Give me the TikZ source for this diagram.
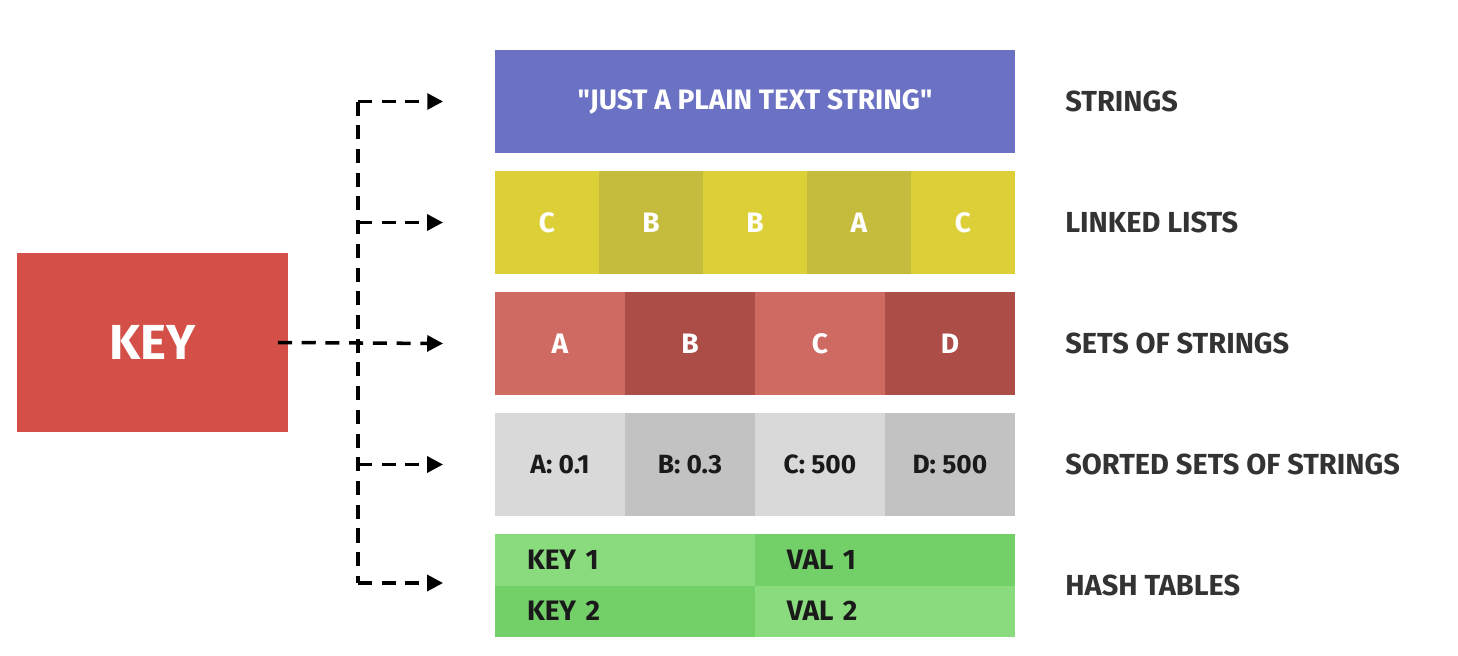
\documentclass[tikz,border=0pt]{standalone}
\usepackage{fontspec}
\setmainfont{Fira Sans}
\usetikzlibrary{positioning, arrows.meta}

\definecolor{keyRed}{HTML}{D34F47}
\definecolor{strBlue}{HTML}{6B72C3}
\definecolor{listLight}{HTML}{DCCF38}
\definecolor{listDark}{HTML}{C5BB3C}
\definecolor{setLight}{HTML}{CF6A63}
\definecolor{setDark}{HTML}{AD4D47}
\definecolor{zsetLight}{HTML}{D9D9D9}
\definecolor{zsetDark}{HTML}{C2C2C2}
\definecolor{hashLight}{HTML}{8ADB7E}
\definecolor{hashDark}{HTML}{73CF68}
\definecolor{labelGray}{HTML}{333333}
\definecolor{inkDark}{HTML}{1A1A1A}

\begin{document}
\begin{tikzpicture}[
                x=0.02cm, y=-0.02cm,
                node distance = 0pt,
                % Box Styles
                keyBox/.style = {rectangle, inner sep=0, outer sep=0, minimum width=5.42cm, minimum height=3.58cm, fill=keyRed, text=white, font=\fontsize{28}{30}\selectfont\bfseries},
                cellBox/.style = {rectangle, inner sep=0, outer sep=0, minimum height=2.06cm, text=white, font=\fontsize{16}{18}\selectfont\bfseries},
                listCell/.style = {cellBox, minimum width=2.08cm},
                setCell/.style = {cellBox, minimum width=2.6cm},
                zsetCell/.style = {setCell, text=inkDark, font=\fontsize{15}{17}\selectfont\bfseries},
                hashCell/.style = {rectangle, outer sep=0, inner ysep=0, inner xsep=0.64cm, text width=3.92cm, align=left, minimum height=1.03cm, text=inkDark, font=\fontsize{16}{18}\selectfont\bfseries},
                typeLabel/.style = {anchor=west, inner xsep=0, text=labelGray, font=\fontsize{16.5}{18}\selectfont\bfseries},
                % Arrow Style
                linkArrow/.style = {-{Triangle[length=9pt, width=9pt]}, line width=2pt, dash pattern=on 8pt off 5.5pt, draw=black}
            ]
                \useasboundingbox (0,0) rectangle (1458,656);

                % ==========================================
                % KEY
                % ==========================================
                \node[keyBox] (key) at (152.5,342.5) {KEY};

                % ==========================================
                % VALUE ROWS
                % ==========================================
                \node[cellBox, minimum width=10.4cm, fill=strBlue] (str) at (755,101.5) {\textquotedbl JUST A PLAIN TEXT STRING\textquotedbl};

                \node[listCell, fill=listLight] (l1) at (547,222.5) {C};
                \node[listCell, fill=listDark, right=of l1] (l2) {B};
                \node[listCell, fill=listLight, right=of l2] (l3) {B};
                \node[listCell, fill=listDark, right=of l3] (l4) {A};
                \node[listCell, fill=listLight, right=of l4] (l5) {C};

                \node[setCell, fill=setLight] (s1) at (560,343.5) {A};
                \node[setCell, fill=setDark, right=of s1] (s2) {B};
                \node[setCell, fill=setLight, right=of s2] (s3) {C};
                \node[setCell, fill=setDark, right=of s3] (s4) {D};

                \node[zsetCell, fill=zsetLight] (z1) at (560,464.5) {A: 0.1};
                \node[zsetCell, fill=zsetDark, right=of z1] (z2) {B: 0.3};
                \node[zsetCell, fill=zsetLight, right=of z2] (z3) {C: 500};
                \node[zsetCell, fill=zsetDark, right=of z3] (z4) {D: 500};

                \node[hashCell, fill=hashLight] (k1) at (625,559.75) {KEY 1};
                \node[hashCell, fill=hashDark, right=of k1] (v1) {VAL 1};
                \node[hashCell, fill=hashDark, below=of k1] (k2) {KEY 2};
                \node[hashCell, fill=hashLight, right=of k2] (v2) {VAL 2};

                % Type labels
                \node[typeLabel] (lblStr) at (1065,101.5) {STRINGS};
                \node[typeLabel] (lblList) at (1065,222.5) {LINKED LISTS};
                \node[typeLabel] (lblSet) at (1065,343.5) {SETS OF STRINGS};
                \node[typeLabel] (lblZset) at (1065,464.5) {SORTED SETS OF STRINGS};
                \node[typeLabel] (lblHash) at (1065,585.5) {HASH TABLES};

                % ==========================================
                % DASHED LINKS
                % ==========================================
                \coordinate (spTop) at (358,101.5);
                \coordinate (spBot) at (358,583);
                \draw[linkArrow, -] (spTop) -- (spBot);

                \draw[linkArrow] (spTop) -- ([xshift=-1.04cm]str.west);
                \draw[linkArrow] (spTop |- l1) -- ([xshift=-1.04cm]l1.west);
                \draw[linkArrow] ([xshift=-0.2cm]key.east) -- ([xshift=-1.04cm]s1.west);
                \draw[linkArrow] (spTop |- z1) -- ([xshift=-1.04cm]z1.west);
                \draw[linkArrow] (spBot) -- ([xshift=-1.04cm]spBot -| k1.west);

            \end{tikzpicture}
\end{document}
